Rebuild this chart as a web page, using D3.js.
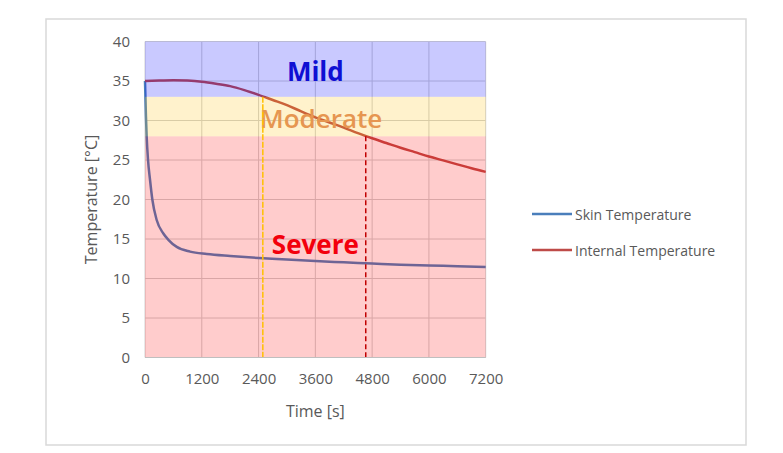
<!DOCTYPE html>
<html>
<head>
<meta charset="utf-8">
<script src="https://cdn.jsdelivr.net/npm/d3@7"></script>
<style>
  html, body { margin: 0; padding: 0; background: #fff; }
  svg { display: block; font-family: "Open Sans", "Noto Sans", sans-serif; }
</style>
</head>
<body>
<svg id="chart" width="783" height="453"></svg>
<script>
// ---- Data ----
const xTicks = [0, 1200, 2400, 3600, 4800, 6000, 7200];
const yTicks = [0, 5, 10, 15, 20, 25, 30, 35, 40];

const skinTime = [0, 20, 35, 64, 106, 155, 247, 388, 494, 671, 953, 1306, 1800, 2400, 3000, 3600, 4200, 4800, 5400, 6000, 6600, 7200];
const skinTemp = [35, 30.5, 28, 25, 22.5, 20, 17.4, 15.7, 14.9, 14.0, 13.4, 13.1, 12.85, 12.6, 12.4, 12.2, 12.05, 11.9, 11.75, 11.65, 11.55, 11.45];

const internalTime = [0, 300, 600, 900, 1200, 1500, 1800, 2100, 2400, 2700, 3000, 3300, 3600, 3900, 4200, 4500, 4800, 5100, 5400, 5700, 6000, 6300, 6600, 6900, 7200];
const internalTemp = [35.0, 35.05, 35.1, 35.05, 34.9, 34.65, 34.35, 33.85, 33.25, 32.6, 31.95, 31.15, 30.4, 29.75, 29.1, 28.4, 27.75, 27.15, 26.55, 26.0, 25.45, 24.95, 24.45, 23.95, 23.5];

const bandNames = ["Severe", "Moderate", "Mild"];
const bandLow = [0, 28, 33];
const bandHigh = [28, 33, 40];

const markerTime = [2490, 4665];
const markerTemp = [33, 28];

const seriesNames = ["Skin Temperature", "Internal Temperature"];

// ---- Layout ----
const svg = d3.select("#chart");
const plot = { left: 145, right: 485.7, top: 41.5, bottom: 357.5 };

const x = d3.scaleLinear().domain([0, 7200]).range([plot.left, plot.right]);
const y = d3.scaleLinear().domain([0, 40]).range([plot.bottom, plot.top]);

// outer frame
svg.append("rect").attr("x", 46).attr("y", 19).attr("width", 700).attr("height", 426)
  .attr("fill", "#fff").attr("stroke", "#d9d9d9").attr("stroke-width", 1.5);

// gridlines
const g = svg.append("g");
g.selectAll("line.hg").data(yTicks).join("line")
  .attr("x1", plot.left).attr("x2", plot.right)
  .attr("y1", d => y(d)).attr("y2", d => y(d))
  .attr("stroke", "#d0d0d0").attr("stroke-width", 1);
g.selectAll("line.vg").data(xTicks).join("line")
  .attr("x1", d => x(d)).attr("x2", d => x(d))
  .attr("y1", plot.top).attr("y2", plot.bottom)
  .attr("stroke", "#d0d0d0").attr("stroke-width", 1);

// series lines
const seriesColors = ["#4a7ebb", "#be4b48"];
const skinData = skinTime.map((t, i) => [t, skinTemp[i]]);
const internalData = internalTime.map((t, i) => [t, internalTemp[i]]);
const line = d3.line().x(d => x(d[0])).y(d => y(d[1])).curve(d3.curveMonotoneX);

svg.append("path").datum(skinData).attr("d", line)
  .attr("fill", "none").attr("stroke", seriesColors[0]).attr("stroke-width", 2.5);
svg.append("path").datum(internalData).attr("d", line)
  .attr("fill", "none").attr("stroke", seriesColors[1]).attr("stroke-width", 2.5);

// labels under the translucent bands
const labelColors = ["#f00010", "#e08c66", "#1414c8"];
const labelTemp = [13.1, 29.1, 35.0];
const labelTime = [3600, 3720, 3600];
svg.selectAll("text.band").data(bandNames).join("text")
  .attr("x", (d, i) => x(labelTime[i]))
  .attr("y", (d, i) => y(labelTemp[i]))
  .attr("text-anchor", "middle")
  .attr("font-size", 26)
  .attr("font-weight", (d, i) => i === 1 ? 600 : 700)
  .attr("fill", (d, i) => labelColors[i])
  .text(d => d);

// translucent bands
const bandColors = ["rgb(255,0,0)", "rgb(255,192,0)", "rgb(0,0,255)"];
const bandOpacity = [0.2, 0.2, 0.21];
svg.selectAll("rect.band").data(bandNames).join("rect")
  .attr("x", plot.left)
  .attr("width", plot.right - plot.left)
  .attr("y", (d, i) => y(bandHigh[i]))
  .attr("height", (d, i) => y(bandLow[i]) - y(bandHigh[i]))
  .attr("fill", (d, i) => bandColors[i])
  .attr("fill-opacity", (d, i) => bandOpacity[i]);

// dashed markers
const markerColors = ["#ffc000", "#c00000"];
svg.selectAll("line.marker").data(markerTime).join("line")
  .attr("x1", d => x(d)).attr("x2", d => x(d))
  .attr("y1", (d, i) => y(markerTemp[i])).attr("y2", y(0))
  .attr("stroke", (d, i) => markerColors[i])
  .attr("stroke-width", 1.5)
  .attr("stroke-dasharray", (d, i) => i === 0 ? "6,1.5" : "5,3");

// x axis line
svg.append("line").attr("x1", plot.left).attr("x2", plot.right)
  .attr("y1", y(0)).attr("y2", y(0)).attr("stroke", "#bfbfbf").attr("stroke-width", 1);

// axes via d3
const xAxis = d3.axisBottom(x).tickValues(xTicks).tickFormat(d3.format("d")).tickSize(0).tickPadding(16);
const yAxis = d3.axisLeft(y).tickValues(yTicks).tickFormat(d3.format("d")).tickSize(0).tickPadding(15);
const gx = svg.append("g").attr("transform", `translate(0,${y(0)})`).call(xAxis);
const gy = svg.append("g").attr("transform", `translate(${plot.left},0)`).call(yAxis);
[gx, gy].forEach(a => {
  a.select(".domain").remove();
  a.selectAll("text").attr("font-size", 15).attr("fill", "#595959")
    .attr("font-family", "\"Open Sans\", \"Noto Sans\", sans-serif");
});

// axis titles
svg.append("text").attr("x", (plot.left + plot.right) / 2).attr("y", 417)
  .attr("text-anchor", "middle").attr("font-size", 16).attr("fill", "#595959")
  .text("Time [s]");
svg.append("text").attr("transform", `translate(97,${(plot.top + plot.bottom) / 2}) rotate(-90)`)
  .attr("text-anchor", "middle").attr("font-size", 16).attr("fill", "#595959")
  .text("Temperature [°C]");

// legend
const legY = [214, 250];
const leg = svg.selectAll("g.leg").data(seriesNames).join("g")
  .attr("transform", (d, i) => `translate(532,${legY[i]})`);
leg.append("line").attr("x1", 0).attr("x2", 40).attr("y1", 0).attr("y2", 0)
  .attr("stroke", (d, i) => seriesColors[i]).attr("stroke-width", 2.5);
leg.append("text").attr("x", 43).attr("y", 5.5).attr("font-size", 14).attr("fill", "#595959")
  .text(d => d);
</script>
</body>
</html>
